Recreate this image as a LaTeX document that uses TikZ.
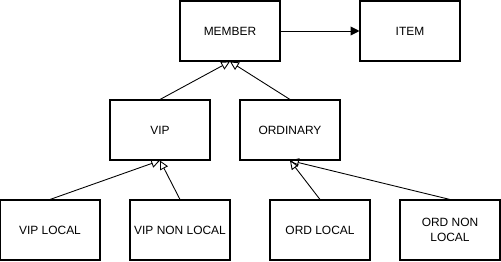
\documentclass[tikz,border=0pt]{standalone}
\usepackage{fontspec}
\setmainfont{Liberation Sans}
\usetikzlibrary{arrows.meta}
\begin{document}
\begin{tikzpicture}[
    box/.style={rectangle,draw,line width=0.6pt,minimum width=2cm,minimum height=1.2cm,inner sep=1pt,align=center,font=\fontsize{6.8}{8.5}\selectfont},
    inherit/.style={line width=0.5pt,-{Triangle[open,length=5pt,width=5pt]}},
    assoc/.style={line width=0.5pt,-{Triangle[length=5pt,width=5pt]}}
]
\useasboundingbox (0,0) rectangle (10.02,5.22);
\node[box] (MEMBER) at (4.6,4.6)  {MEMBER};
\node[box] (ITEM)   at (8.2,4.6)  {ITEM};
\node[box] (VIP)    at (3.2,2.62) {VIP};
\node[box] (ORD)    at (5.8,2.62) {ORDINARY};
\node[box] (VIPL)   at (1.0,0.62) {VIP LOCAL};
\node[box] (VIPNL)  at (3.6,0.62) {VIP NON LOCAL};
\node[box] (ORDL)   at (6.4,0.62) {ORD LOCAL};
\node[box] (ORDNL)  at (9.0,0.62) {ORD NON\\LOCAL};

\draw[assoc] (MEMBER) -- (ITEM);
\draw[inherit] (VIP.north) -- (MEMBER.south);
\draw[inherit] (ORD.north) -- (MEMBER.south);
\draw[inherit] (VIPL.north) -- (VIP.south);
\draw[inherit] (VIPNL.north) -- (VIP.south);
\draw[inherit] (ORDL.north) -- (ORD.south);
\draw[inherit] (ORDNL.north) -- (ORD.south);
\end{tikzpicture}
\end{document}
